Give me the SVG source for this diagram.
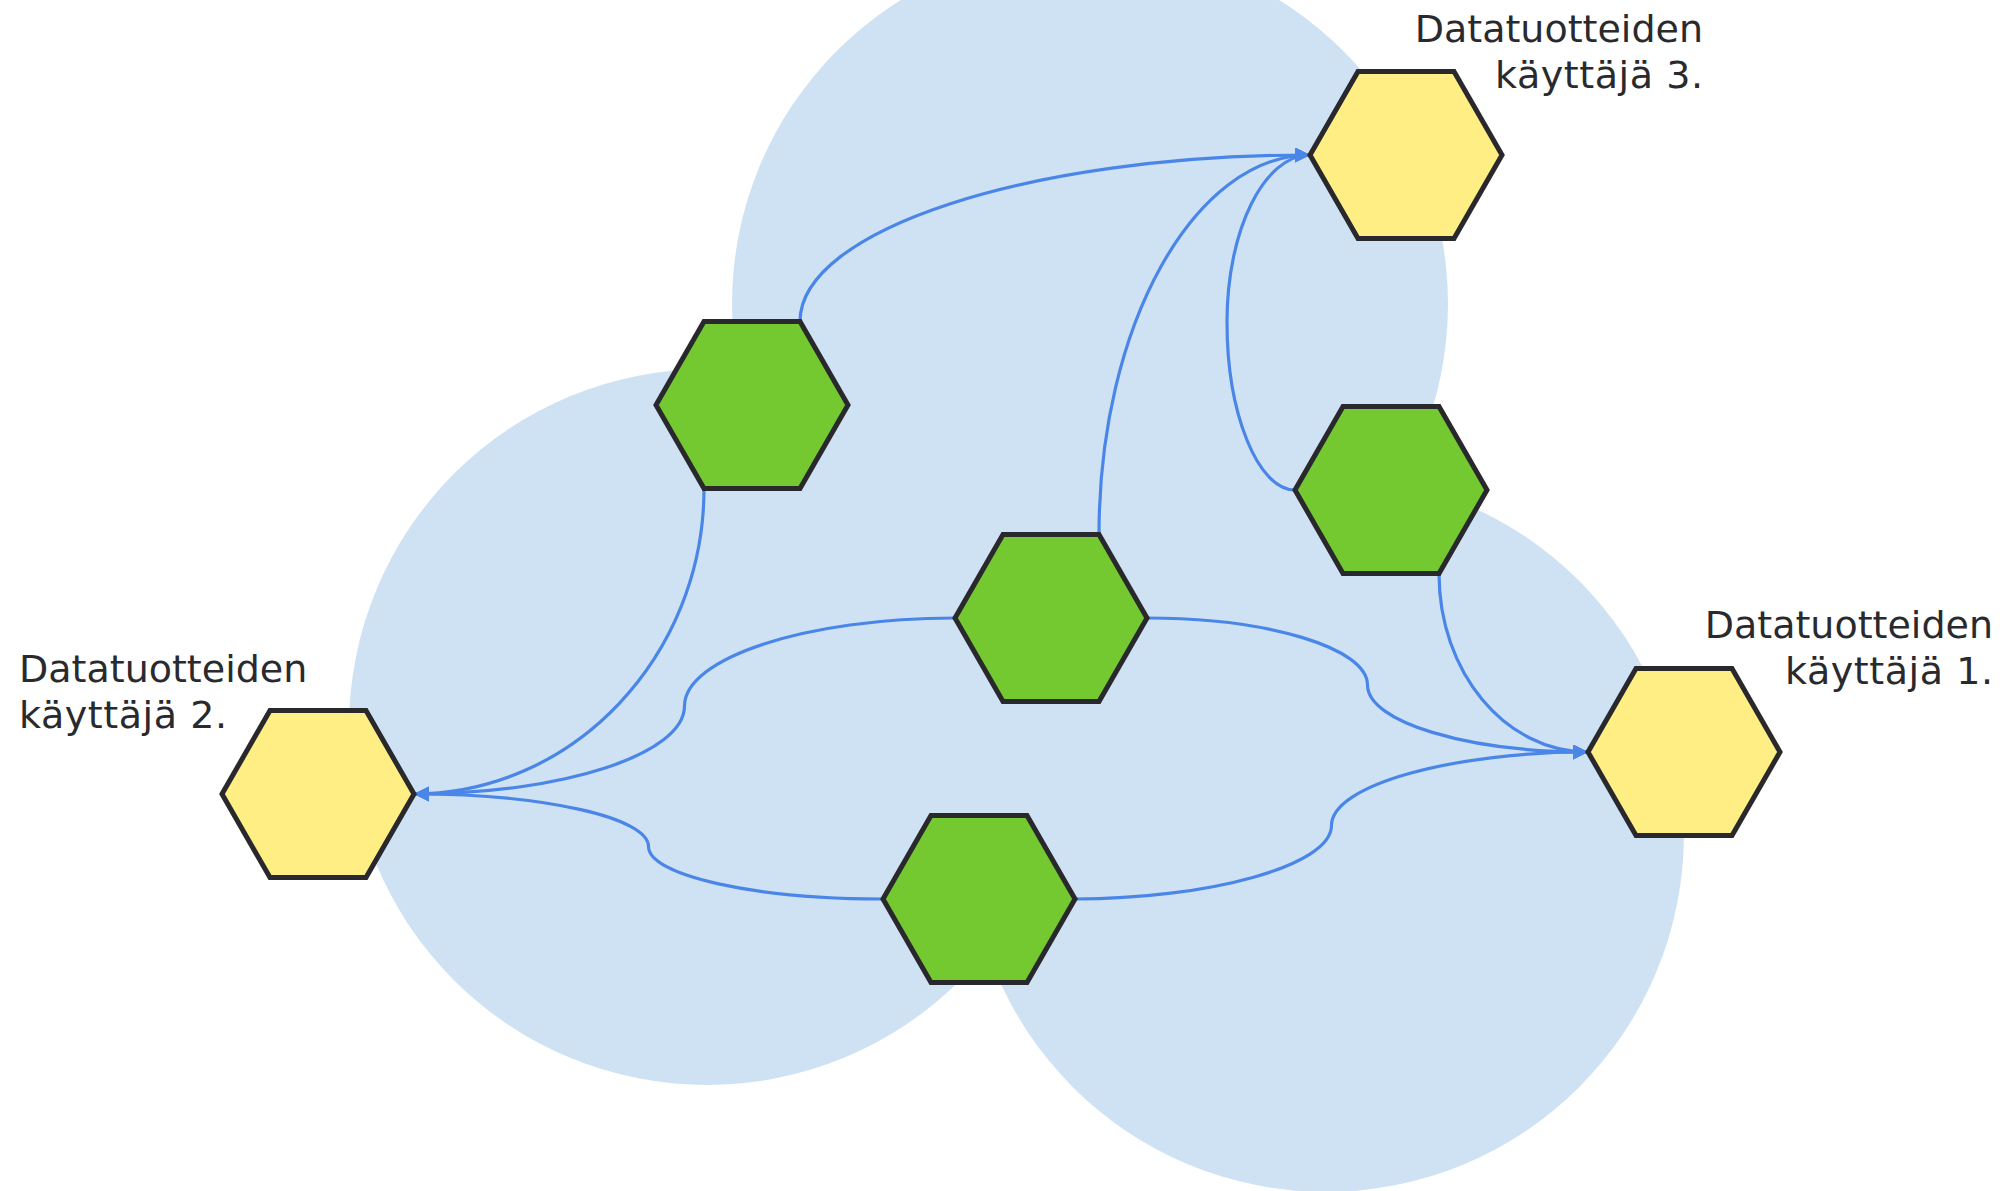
<svg xmlns="http://www.w3.org/2000/svg" width="2011" height="1191" viewBox="0 0 2011 1191">
<defs>
<style>
.bg{fill:#cfe2f3}
.hex{stroke:#29292d;stroke-width:5;stroke-linejoin:miter}
.y{fill:#ffee83}
.g{fill:#73c92f}
.c{fill:none;stroke:#4a86e8;stroke-width:3.2}
.t{font-family:"DejaVu Sans",Verdana,sans-serif;font-size:38px;fill:#2a2a2e}
</style>
<marker id="arr" markerUnits="userSpaceOnUse" markerWidth="16" markerHeight="16" refX="15" refY="7.5" orient="auto">
<path d="M0,0 L15,7.5 L0,15 Z" fill="#4a86e8"/>
</marker>
<polygon id="hx" points="-96,0 -48,-83.5 48,-83.5 96,0 48,83.5 -48,83.5"/>
</defs>
<rect width="2011" height="1191" fill="#ffffff"/>
<g id="domains">
<circle class="bg" cx="1090" cy="304" r="358"/>
<circle class="bg" cx="707" cy="727" r="358"/>
<circle class="bg" cx="1326" cy="834" r="358"/>
</g>
<g id="connectors">
<path class="c" marker-end="url(#arr)" d="M800,321.5 C800,230 1029,155 1310,155"/>
<path class="c" marker-end="url(#arr)" d="M1099,534.5 C1099,326 1194,155 1310,155"/>
<path class="c" marker-end="url(#arr)" d="M1295,490 C1258,490 1227,414 1227,322 C1227,230 1264,155 1310,155"/>
<path class="c" marker-end="url(#arr)" d="M704,488.5 C704,656 573,794 414,794"/>
<path class="c" marker-end="url(#arr)" d="M955,618 C806,618 684.5,658 684.5,706 C684.5,754 563,794 414,794"/>
<path class="c" marker-end="url(#arr)" d="M883,899 C754,899 648.5,875.5 648.5,846.5 C648.5,817.5 543,794 414,794"/>
<path class="c" marker-end="url(#arr)" d="M1147,618 C1268,618 1367.5,648 1367.5,685 C1367.5,722 1467,752 1588,752"/>
<path class="c" marker-end="url(#arr)" d="M1075,899 C1207,899 1331.5,866 1331.5,825.5 C1331.5,785 1453,752 1588,752"/>
<path class="c" marker-end="url(#arr)" d="M1439,573.5 C1439,672 1505,752 1588,752"/>
</g>
<g id="user3">
<use href="#hx" class="hex y" x="1406" y="155"/>
<text class="t" text-anchor="end" x="1703" y="42">Datatuotteiden</text>
<text class="t" x="1495" y="88" textLength="208" lengthAdjust="spacing">käyttäjä 3.</text>
</g>
<g id="user2">
<use href="#hx" class="hex y" x="318" y="794"/>
<text class="t" x="19" y="682">Datatuotteiden</text>
<text class="t" x="19" y="728" textLength="208" lengthAdjust="spacing">käyttäjä 2.</text>
</g>
<g id="user1">
<use href="#hx" class="hex y" x="1684" y="752"/>
<text class="t" text-anchor="end" x="1993" y="638">Datatuotteiden</text>
<text class="t" x="1785" y="684" textLength="208" lengthAdjust="spacing">käyttäjä 1.</text>
</g>
<g id="product-top-left"><use href="#hx" class="hex g" x="752" y="405"/></g>
<g id="product-center"><use href="#hx" class="hex g" x="1051" y="618"/></g>
<g id="product-right"><use href="#hx" class="hex g" x="1391" y="490"/></g>
<g id="product-bottom"><use href="#hx" class="hex g" x="979" y="899"/></g>
</svg>
